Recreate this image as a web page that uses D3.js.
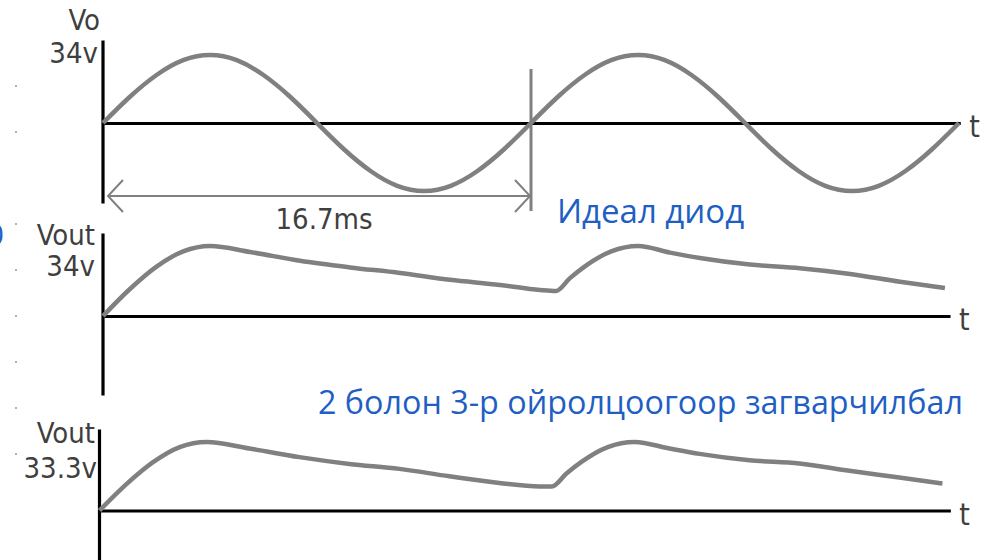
<!DOCTYPE html>
<html>
<head>
<meta charset="utf-8">
<script src="https://cdn.jsdelivr.net/npm/d3@7"></script>
<style>
  html, body { margin: 0; padding: 0; background: #ffffff; }
  svg { display: block; }
  .lbl { font-family: "DejaVu Sans Condensed", "DejaVu Sans", sans-serif; font-stretch: condensed; fill: #3f3f3f; }
  .note { font-family: "Open Sans", "Noto Sans", sans-serif; fill: #1f5fc4; }
</style>
</head>
<body>
<svg id="chart" width="995" height="560"></svg>
<script>
// Rectifier waveforms: source sine Vo, ideal-diode output and the approximated output.
const periodMs = 16.7;

// Source voltage Vo (ms, V), two full periods
const voTime = [0, 1.04, 2.09, 3.13, 4.18, 5.22, 6.26, 7.31, 8.35, 9.39, 10.44, 11.48, 12.53, 13.57, 14.61, 15.66,
                16.7, 17.74, 18.79, 19.83, 20.88, 21.92, 22.96, 24.01, 25.05, 26.09, 27.14, 28.18, 29.23, 30.27, 31.31, 32.36, 33.4];
const voValue = [0, 13, 24, 31.4, 34, 31.4, 24, 13, 0, -13, -24, -31.4, -34, -31.4, -24, -13,
                 0, 13, 24, 31.4, 34, 31.4, 24, 13, 0, -13, -24, -31.4, -34, -31.4, -24, -13, 0];

// Ideal diode output (ms, V)
const idealTime = [0, 1.04, 2.09, 3.13, 4.18, 5.74, 7.69, 9.64, 11.59, 13.54, 15.49, 17.05, 17.67,
                   18.22, 18.79, 19.83, 20.88, 22.12, 23.29, 25.24, 27.19, 29.15, 31.1, 32.85];
const idealValue = [0, 13, 24, 31.4, 34, 31.1, 26.8, 23.6, 20.9, 17.6, 15.1, 12.6, 12.1,
                    18.4, 24, 31.4, 34, 30.8, 28.2, 25.0, 23.2, 20.4, 16.6, 13.6];

// Second / third approximation output (ms, V)
const approxTime = [0, 1.04, 2.09, 3.13, 4.18, 5.85, 7.8, 9.75, 11.7, 13.65, 15.6, 17.17, 17.65,
                    18.22, 18.79, 19.83, 20.88, 22.24, 23.41, 25.36, 27.31, 29.26, 31.21, 32.89];
const approxValue = [0, 12.7, 23.5, 30.8, 33.3, 30.1, 25.9, 22.6, 20.2, 16.6, 13.4, 11.7, 11.7,
                     18.0, 23.5, 30.8, 33.3, 30.1, 27.5, 24.4, 22.8, 19.3, 16.0, 13.1];

// Panel labels
const panelNames = ["Vo", "Vout", "Vout"];
const peakLabels = ["34v", "34v", "33.3v"];
const periodLabel = "16.7ms";
const axisName = "t";
const noteIdeal = "Идеал диод";
const noteApprox = "2 болон 3-р ойролцоогоор загварчилбал";

const svg = d3.select("#chart");
const curveColor = "#808080";

// per-panel geometry
const panels = [
  { time: voTime, value: voValue, peak: 34, x0: 103, base: 123, amp: 68, axisTop: 40, axisBottom: 203, tEnd: 33.45,
    curve: d3.curveNatural, nameY: 30, nameX: 100, peakY: 63, peakX: 98 },
  { time: idealTime, value: idealValue, peak: 34, x0: 103, base: 316, amp: 70, axisTop: 233, axisBottom: 395, tEnd: 33.05,
    curve: d3.curveMonotoneX, nameY: 245, nameX: 95, peakY: 276, peakX: 95 },
  { time: approxTime, value: approxValue, peak: 33.3, x0: 99.5, base: 510.5, amp: 68.6, axisTop: 429, axisBottom: 562, tEnd: 33.2,
    curve: d3.curveMonotoneX, nameY: 443, nameX: 95, peakY: 478, peakX: 97 }
];

panels.forEach((p, i) => {
  const x = d3.scaleLinear().domain([0, periodMs]).range([p.x0, p.x0 + 428]);
  const y = d3.scaleLinear().domain([0, p.peak]).range([p.base, p.base - p.amp]);
  p.x = x; p.y = y;
  const g = svg.append("g");

  // time axis (no ticks)
  g.append("g")
    .attr("transform", `translate(0,${p.base})`)
    .call(d3.axisBottom(d3.scaleLinear().domain([0, p.tEnd]).range([x(0) - 1, x(p.tEnd)]))
      .tickValues([]).tickSizeOuter(0))
    .call(a => a.select(".domain").attr("stroke", "#000").attr("stroke-width", 3.2));

  // vertical axis (no ticks)
  g.append("g")
    .attr("transform", `translate(${x(0) - 0.5},0)`)
    .call(d3.axisLeft(d3.scaleLinear().domain([0, 1]).range([p.axisBottom, p.axisTop]))
      .tickValues([]).tickSizeOuter(0))
    .call(a => a.select(".domain").attr("stroke", "#000").attr("stroke-width", 3.2));

  // waveform
  const pts = p.time.map((t, k) => [t, p.value[k]]);
  g.append("path")
    .datum(pts)
    .attr("fill", "none")
    .attr("stroke", curveColor)
    .attr("stroke-width", 4.5)
    .attr("stroke-linejoin", "round")
    .attr("d", d3.line().x(d => x(d[0])).y(d => y(d[1])).curve(p.curve));

  // labels
  g.append("text").attr("class", "lbl").attr("x", p.nameX).attr("y", p.nameY)
    .attr("text-anchor", "end").attr("font-size", 29).text(panelNames[i]);
  g.append("text").attr("class", "lbl").attr("x", p.peakX).attr("y", p.peakY)
    .attr("text-anchor", "end").attr("font-size", 29).text(peakLabels[i]);
  g.append("text").attr("class", "lbl").attr("x", x(p.tEnd) + 9).attr("y", p.base + 14)
    .attr("font-size", 30).text(axisName);
});

// period marker on the source panel
const srcPanel = panels[0];
const xp = srcPanel.x(periodMs);
svg.append("line")
  .attr("x1", xp).attr("x2", xp).attr("y1", 69).attr("y2", 211)
  .attr("stroke", curveColor).attr("stroke-width", 3);

const arrowY = 196;
const ax1 = srcPanel.x(0) + 5, ax2 = xp - 1;
svg.append("line").attr("x1", ax1).attr("x2", ax2).attr("y1", arrowY).attr("y2", arrowY)
  .attr("stroke", curveColor).attr("stroke-width", 2);
svg.append("path")
  .attr("d", `M${ax1 + 15},${arrowY - 16}L${ax1},${arrowY}L${ax1 + 15},${arrowY + 16}` +
             `M${ax2 - 15},${arrowY - 16}L${ax2},${arrowY}L${ax2 - 15},${arrowY + 16}`)
  .attr("fill", "none").attr("stroke", curveColor).attr("stroke-width", 2);
svg.append("text").attr("class", "lbl").attr("x", (ax1 + ax2) / 2 + 5).attr("y", 229)
  .attr("text-anchor", "middle").attr("font-size", 29).text(periodLabel);

// small ruler marks along the left margin
const rulerY = [86, 132, 224, 270, 316, 362, 408, 454];
svg.selectAll("rect.mark").data(rulerY).enter().append("rect")
  .attr("class", "mark").attr("x", 15).attr("y", d => d - 1).attr("width", 2).attr("height", 2)
  .attr("fill", "#b0b0b0");

// annotations
svg.append("text").attr("class", "note").attr("x", 557).attr("y", 223)
  .attr("font-size", 33).text(noteIdeal);
svg.append("text").attr("class", "note").attr("x", 318).attr("y", 414)
  .attr("font-size", 32.3).text(noteApprox);
svg.append("text").attr("class", "note").attr("x", 4).attr("y", 245)
  .attr("text-anchor", "end").attr("font-size", 30).text("0");
</script>
</body>
</html>
